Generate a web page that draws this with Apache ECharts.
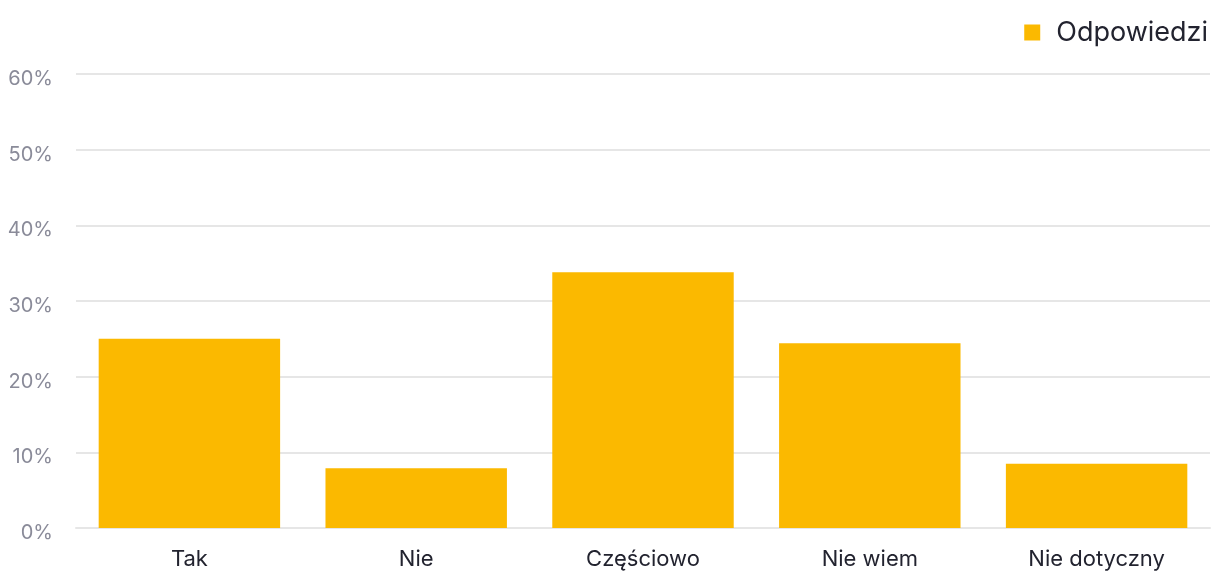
<!DOCTYPE html>
<html>
<head>
<meta charset="utf-8">
<script src="https://cdn.jsdelivr.net/npm/echarts@6/dist/echarts.min.js"></script>
<style>
  html, body { margin: 0; padding: 0; background: #ffffff; }
  #chart { width: 1214px; height: 572px; }
</style>
</head>
<body>
<div id="chart"></div>
<script>
// Answer categories and the share of responses (percent) for each
const categories = ['Tak', 'Nie', 'Częściowo', 'Nie wiem', 'Nie dotyczny'];
const seriesName = 'Odpowiedzi';
const values = [25.0, 7.9, 33.8, 24.4, 8.5];
// Value axis range and step (percent)
const yMin = 0;
const yMax = 60;
const yStep = 10;

const font = 'Inter, "Open Sans", sans-serif';

const chart = echarts.init(document.getElementById('chart'));
chart.setOption({
  animation: false,
  textStyle: { fontFamily: font },
  legend: {
    data: [seriesName],
    right: 1,
    top: 14,
    icon: 'rect',
    itemWidth: 16,
    itemHeight: 16,
    itemGap: 10,
    textStyle: {
      fontFamily: font,
      fontSize: 27,
      color: '#22232f',
      padding: [0, 0, 0, 11]
    }
  },
  grid: { left: 76, right: 4, top: 74, bottom: 44 },
  xAxis: {
    type: 'category',
    data: categories,
    axisLine: { show: true, lineStyle: { color: '#e6e6e6', width: 2 } },
    axisTick: { show: false },
    axisLabel: {
      fontFamily: font,
      fontSize: 22,
      color: '#22232f',
      margin: 20
    }
  },
  yAxis: {
    type: 'value',
    min: yMin,
    max: yMax,
    interval: yStep,
    axisLine: { show: false },
    axisTick: { show: false },
    axisLabel: {
      formatter: '{value}%',
      fontFamily: font,
      fontSize: 20,
      color: '#8a8b99',
      margin: 23,
      verticalAlign: 'top',
      lineHeight: 10
    },
    splitLine: { lineStyle: { color: '#e6e6e6', width: 2 } }
  },
  series: [{
    name: seriesName,
    type: 'bar',
    data: values,
    barCategoryGap: '20%',
    itemStyle: { color: '#fbb900' }
  }]
});
</script>
</body>
</html>
